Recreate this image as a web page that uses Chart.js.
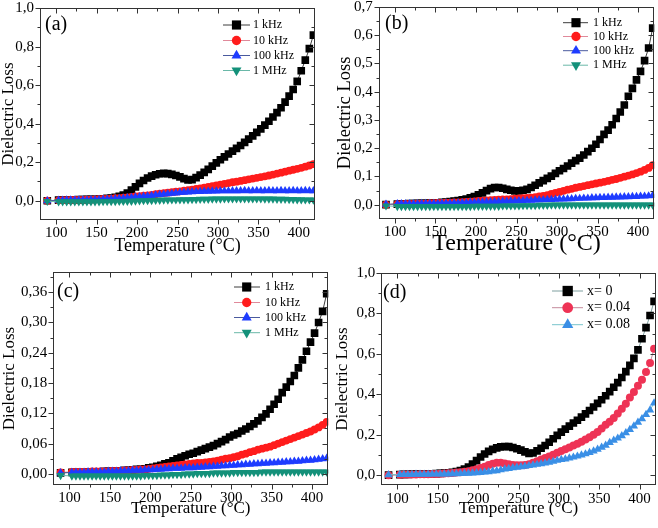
<!DOCTYPE html>
<html><head><meta charset="utf-8">
<script src="https://cdn.jsdelivr.net/npm/chart.js@4.4.1/dist/chart.umd.min.js"></script>
<style>
html,body{margin:0;padding:0;background:#fff;width:658px;height:528px;overflow:hidden}
canvas{position:absolute;left:0;top:0}
</style></head><body>
<canvas id="ca" width="658" height="528"></canvas>
<canvas id="cb" width="658" height="528"></canvas>
<canvas id="cc" width="658" height="528"></canvas>
<canvas id="cd" width="658" height="528"></canvas>
<script>
// ---- data (temperature in °C, dielectric loss) ----
const temps = [89,103,108,113,118,123,128,133,138,143,148,153,158,163,168,173,178,183,188,193,198,203,208,213,218,223,228,233,238,243,248,253,258,263,268,273,278,283,288,293,298,303,308,313,318,323,328,333,338,343,348,353,358,363,368,373,378,383,388,393,398,403,408,413,418];

// panel (a)  x = 0
const lossA_1kHz = [0.000,
 0.003,0.004,0.004,0.005,0.005,0.006,0.006,0.007,0.007,0.008,
 0.009,0.010,0.012,0.014,0.018,0.023,0.030,0.040,0.055,0.072,
 0.090,0.105,0.118,0.128,0.135,0.140,0.142,0.141,0.137,0.131,
 0.124,0.115,0.108,0.110,0.120,0.133,0.147,0.163,0.180,0.197,
 0.213,0.228,0.243,0.258,0.272,0.287,0.303,0.320,0.337,0.355,
 0.373,0.393,0.413,0.435,0.458,0.483,0.512,0.543,0.578,0.620,
 0.675,0.730,0.790,0.860];
const lossA_10kHz = [0.000,
 0.002,0.003,0.003,0.004,0.004,0.005,0.005,0.006,0.006,0.007,
 0.008,0.009,0.010,0.011,0.013,0.014,0.016,0.018,0.020,0.022,
 0.024,0.026,0.028,0.031,0.034,0.037,0.040,0.042,0.045,0.047,
 0.049,0.052,0.055,0.058,0.061,0.064,0.068,0.072,0.076,0.080,
 0.084,0.088,0.092,0.096,0.099,0.103,0.107,0.111,0.115,0.119,
 0.123,0.127,0.131,0.136,0.141,0.146,0.151,0.156,0.161,0.166,
 0.171,0.177,0.183,0.190];
const lossA_100kHz = [0.000,
 0.002,0.002,0.003,0.003,0.003,0.004,0.004,0.004,0.005,0.005,
 0.006,0.007,0.008,0.009,0.010,0.012,0.013,0.015,0.017,0.019,
 0.021,0.023,0.025,0.027,0.030,0.032,0.034,0.036,0.038,0.040,
 0.042,0.044,0.045,0.046,0.047,0.048,0.049,0.049,0.050,0.050,
 0.051,0.051,0.051,0.052,0.052,0.052,0.053,0.052,0.052,0.053,
 0.052,0.052,0.053,0.052,0.052,0.053,0.052,0.052,0.053,0.052,
 0.052,0.053,0.052,0.052];
const lossA_1MHz = [-0.003,
 -0.005,-0.005,-0.005,-0.005,-0.005,-0.005,-0.005,-0.005,-0.005,-0.005,
 -0.005,-0.004,-0.004,-0.004,-0.004,-0.003,-0.003,-0.002,-0.002,-0.001,
 0.000,0.001,0.001,0.002,0.003,0.003,0.004,0.004,0.005,0.005,
 0.006,0.006,0.006,0.007,0.007,0.008,0.008,0.008,0.009,0.009,
 0.009,0.010,0.010,0.010,0.010,0.010,0.010,0.010,0.010,0.010,
 0.010,0.009,0.009,0.009,0.008,0.008,0.008,0.007,0.007,0.006,
 0.006,0.005,0.005,0.004];

// panel (b)  x = 0.04
const lossB_1kHz = [0.000,
 0.002,0.003,0.003,0.004,0.004,0.005,0.005,0.005,0.006,0.006,
 0.007,0.008,0.009,0.011,0.013,0.015,0.017,0.020,0.024,0.029,
 0.035,0.042,0.050,0.057,0.061,0.061,0.058,0.054,0.051,0.049,
 0.049,0.051,0.054,0.061,0.069,0.077,0.085,0.093,0.101,0.111,
 0.120,0.128,0.137,0.147,0.156,0.165,0.176,0.188,0.200,0.214,
 0.231,0.249,0.264,0.283,0.305,0.328,0.353,0.384,0.412,0.442,
 0.472,0.510,0.555,0.625];
const lossB_10kHz = [0.000,
 0.002,0.002,0.003,0.003,0.003,0.004,0.004,0.004,0.005,0.005,
 0.006,0.006,0.007,0.007,0.008,0.008,0.009,0.010,0.011,0.012,
 0.013,0.014,0.015,0.016,0.017,0.018,0.019,0.019,0.020,0.021,
 0.022,0.023,0.024,0.025,0.027,0.029,0.031,0.034,0.038,0.042,
 0.045,0.049,0.053,0.056,0.060,0.063,0.066,0.069,0.072,0.075,
 0.078,0.081,0.084,0.088,0.091,0.095,0.099,0.103,0.107,0.112,
 0.117,0.123,0.130,0.140];
const lossB_100kHz = [0.001,
 0.003,0.003,0.003,0.003,0.003,0.003,0.004,0.004,0.004,0.004,
 0.004,0.005,0.005,0.005,0.006,0.006,0.007,0.007,0.008,0.008,
 0.009,0.009,0.010,0.010,0.011,0.011,0.012,0.012,0.013,0.013,
 0.014,0.014,0.015,0.015,0.016,0.017,0.017,0.018,0.018,0.019,
 0.020,0.020,0.021,0.021,0.022,0.022,0.023,0.023,0.024,0.024,
 0.025,0.025,0.026,0.026,0.027,0.027,0.028,0.028,0.029,0.029,
 0.030,0.030,0.031,0.032];
const lossB_1MHz = [-0.004,
 -0.006,-0.006,-0.006,-0.006,-0.006,-0.006,-0.006,-0.006,-0.006,-0.006,
 -0.006,-0.006,-0.006,-0.006,-0.006,-0.006,-0.006,-0.006,-0.006,-0.005,
 -0.005,-0.005,-0.005,-0.005,-0.005,-0.005,-0.004,-0.004,-0.004,-0.004,
 -0.004,-0.003,-0.003,-0.003,-0.003,-0.002,-0.002,-0.002,-0.001,-0.001,
 -0.001,-0.001,-0.001,-0.001,-0.001,-0.001,-0.001,-0.001,-0.001,-0.001,
 -0.001,-0.001,-0.001,-0.001,-0.001,-0.001,-0.001,-0.001,-0.001,-0.001,
 -0.001,-0.001,-0.001,-0.001];

// panel (c)  x = 0.08
const lossC_1kHz = [0.002,
 0.003,0.003,0.003,0.003,0.004,0.004,0.004,0.004,0.005,0.005,
 0.005,0.006,0.006,0.007,0.007,0.008,0.009,0.009,0.010,0.012,
 0.013,0.015,0.017,0.020,0.022,0.026,0.030,0.033,0.036,0.039,
 0.041,0.044,0.047,0.050,0.053,0.056,0.060,0.064,0.068,0.073,
 0.077,0.080,0.085,0.089,0.094,0.099,0.105,0.112,0.119,0.128,
 0.138,0.148,0.161,0.172,0.183,0.195,0.210,0.226,0.243,0.261,
 0.279,0.300,0.322,0.357];
const lossC_10kHz = [0.003,
 0.004,0.004,0.004,0.004,0.004,0.005,0.005,0.005,0.005,0.005,
 0.006,0.006,0.006,0.007,0.007,0.008,0.008,0.009,0.009,0.010,
 0.011,0.012,0.013,0.014,0.015,0.016,0.017,0.018,0.019,0.020,
 0.021,0.022,0.022,0.023,0.024,0.025,0.026,0.028,0.030,0.031,
 0.033,0.035,0.038,0.040,0.043,0.045,0.048,0.050,0.052,0.054,
 0.057,0.060,0.063,0.066,0.069,0.072,0.075,0.078,0.081,0.084,
 0.088,0.092,0.097,0.103];
const lossC_100kHz = [0.002,
 0.003,0.003,0.003,0.003,0.004,0.004,0.004,0.004,0.004,0.005,
 0.005,0.005,0.006,0.006,0.006,0.007,0.007,0.007,0.008,0.008,
 0.008,0.009,0.009,0.010,0.010,0.011,0.011,0.011,0.012,0.012,
 0.012,0.013,0.013,0.014,0.014,0.015,0.015,0.016,0.016,0.017,
 0.017,0.018,0.018,0.019,0.019,0.020,0.020,0.021,0.021,0.022,
 0.022,0.023,0.023,0.024,0.024,0.025,0.025,0.026,0.027,0.027,
 0.028,0.029,0.030,0.031];
const lossC_1MHz = [-0.003,
 -0.004,-0.004,-0.004,-0.004,-0.004,-0.004,-0.004,-0.004,-0.004,-0.004,
 -0.004,-0.004,-0.004,-0.004,-0.004,-0.004,-0.004,-0.004,-0.003,-0.003,
 -0.003,-0.003,-0.002,-0.002,-0.002,-0.001,-0.001,-0.001,0.000,0.000,
 0.000,0.001,0.001,0.001,0.001,0.002,0.002,0.002,0.002,0.002,
 0.003,0.003,0.003,0.003,0.003,0.003,0.003,0.004,0.004,0.004,
 0.004,0.004,0.004,0.004,0.004,0.004,0.004,0.004,0.004,0.004,
 0.004,0.004,0.004,0.004];

const freqLabels = ['1 kHz', '10 kHz', '100 kHz', '1 MHz'];
const compLabels = ['x= 0', 'x= 0.04', 'x= 0.08'];
const xTitle = 'Temperature (°C)';
const yTitle = 'Dielectric Loss';

// ---- styles ----
const SERIF = "'Liberation Serif', 'Times New Roman', serif";
const freqStyles = [
  {pointStyle:'rect', pointRadius:5.4, pointBackgroundColor:'#000000', borderColor:'#3c3c3c', pointRotation:0},
  {pointStyle:'circle', pointRadius:3.9, pointBackgroundColor:'#ff1c1c', borderColor:'#e0899a', pointRotation:0},
  {pointStyle:'triangle', pointRadius:4.8, pointBackgroundColor:'#1e3cff', borderColor:'#4a5a9e', pointRotation:0},
  {pointStyle:'triangle', pointRadius:4.8, pointBackgroundColor:'#14917a', borderColor:'#6ab8a8', pointRotation:180}
];
const compStyles = [
  {pointStyle:'rect', pointRadius:5.4, pointBackgroundColor:'#000000', borderColor:'#7f9f9f', pointRotation:0},
  {pointStyle:'circle', pointRadius:4, pointBackgroundColor:'#ee3355', borderColor:'#c48a9c', pointRotation:0},
  {pointStyle:'triangle', pointRadius:4.8, pointBackgroundColor:'#3a8fe6', borderColor:'#78c4cc', pointRotation:0}
];

const panels = [
  {id:'ca', plot:[40,8.2,315,220], y:[-0.1,1.0,0.2], dec:1, yTitleX:9, xTitleY:246, xTitleSize:18, yTitleSize:17, tick:15,
   letter:'(a)', letterPos:[45,25], labels:freqLabels, styles:freqStyles,
   series:[lossA_1kHz, lossA_10kHz, lossA_100kHz, lossA_1MHz],
   legend:{x0:223, x1:250, mx:236.5, tx:253, rows:[25,40.5,55.5,70.5], size:12, scale:1.2}},
  {id:'cb', plot:[378.7,7,654.3,218.8], y:[-0.05,0.7,0.1], dec:1, yTitleX:345, xTitleY:244, xTitleSize:24, yTitleSize:18.5, tick:15,
   letter:'(b)', letterPos:[385,24], labels:freqLabels, styles:freqStyles,
   series:[lossB_1kHz, lossB_10kHz, lossB_100kHz, lossB_1MHz],
   legend:{x0:563, x1:588, mx:576, tx:593, rows:[22.7,36.5,50.7,65.2], size:12, scale:1.2}},
  {id:'cc', plot:[53.3,272,328.3,485], y:[-0.022,0.40,0.06], dec:2, yTitleX:10, xTitleY:509, xTitleSize:17, yTitleSize:17, tick:15,
   letter:'(c)', letterPos:[57,292], labels:freqLabels, styles:freqStyles,
   series:[lossC_1kHz, lossC_10kHz, lossC_100kHz, lossC_1MHz],
   legend:{x0:234, x1:260, mx:246.7, tx:265, rows:[287,302.5,317.5,332.7], size:12, scale:1.2}},
  {id:'cd', plot:[381.3,273,655.7,485.3], y:[-0.05,1.0,0.2], dec:1, yTitleX:343, xTitleY:508.7, xTitleSize:17, yTitleSize:17, tick:15,
   letter:'(d)', letterPos:[383,293], labels:compLabels, styles:compStyles,
   series:[lossA_1kHz, lossB_1kHz, lossC_1kHz],
   legend:{x0:552, x1:583, mx:567.7, tx:587, rows:[291,307.7,324.7], size:14, scale:1.35}}
];

// ---- frame, mirrored ticks, panel letter and legend ----
const decor = {
  id: 'decor',
  afterDraw(chart, args, opts) {
    const p = opts.panel;
    const ctx = chart.ctx;
    const {left, top, right, bottom} = chart.chartArea;
    const L = Math.round(left) + 0.5, R = Math.round(right) - 0.5, T = Math.round(top) + 0.5, B = Math.round(bottom) - 0.5;
    ctx.save();
    ctx.strokeStyle = '#333';
    ctx.lineWidth = 1;
    ctx.strokeRect(L, T, R - L, B - T);
    const xs = chart.scales.x, ys = chart.scales.y;
    function tickSet(scale) {
      const vals = scale.ticks.map(t => t.value);
      const out = vals.map(v => ({v, major:true}));
      const half = (vals[1] - vals[0]) / 2;
      const cand = [vals[0] - half];
      for (let i = 0; i < vals.length; i++) cand.push(vals[i] + half);
      cand.forEach(v => { if (v > scale.min + 1e-9 && v < scale.max - 1e-9) out.push({v, major:false}); });
      return out;
    }
    ctx.beginPath();
    tickSet(xs).forEach(t => {
      const px = Math.round(xs.getPixelForValue(t.v)) + 0.5;
      const len = t.major ? 5 : 3;
      ctx.moveTo(px, B); ctx.lineTo(px, B + len);
      ctx.moveTo(px, T); ctx.lineTo(px, T + len);
    });
    tickSet(ys).forEach(t => {
      const py = Math.round(ys.getPixelForValue(t.v)) + 0.5;
      const len = t.major ? 5 : 3;
      ctx.moveTo(L, py); ctx.lineTo(L - len, py);
      ctx.moveTo(R, py); ctx.lineTo(R - len, py);
    });
    ctx.stroke();
    // panel letter
    ctx.fillStyle = '#000';
    ctx.font = '20px ' + SERIF;
    ctx.textBaseline = 'middle';
    ctx.textAlign = 'left';
    ctx.fillText(p.letter, p.letterPos[0], p.letterPos[1]);
    // legend
    const lg = p.legend;
    chart.data.datasets.forEach((ds, i) => {
      const y = lg.rows[i];
      ctx.strokeStyle = ds.borderColor;
      ctx.lineWidth = 1;
      ctx.beginPath(); ctx.moveTo(lg.x0, y); ctx.lineTo(lg.x1, y); ctx.stroke();
      ctx.fillStyle = ds.pointBackgroundColor;
      Chart.helpers.drawPoint(ctx, {pointStyle: ds.pointStyle, rotation: ds.pointRotation, radius: ds.pointRadius * lg.scale, borderWidth: 0}, lg.mx, y);
      ctx.fillStyle = '#000';
      ctx.font = lg.size + 'px ' + SERIF;
      ctx.fillText(ds.label, lg.tx, y);
    });
    ctx.restore();
  }
};

function makeChart(p) {
  const yScaleLeft = p.yTitleX - p.yTitleSize / 2;
  const Wy = p.plot[0] - yScaleLeft;
  const xScaleBottom = p.xTitleY + p.xTitleSize / 2;
  const Hx = xScaleBottom - p.plot[3];
  const tickFont = {family: SERIF, size: p.tick, lineHeight: 1};
  const datasets = p.series.map((vals, i) => Object.assign({
    label: p.labels[i],
    data: temps.map((t, k) => ({x: t, y: vals[k]})),
    borderWidth: 1,
    pointBorderWidth: 0,
    pointHoverRadius: 0,
    tension: 0,
    order: p.series.length - i
  }, p.styles[i]));
  return new Chart(document.getElementById(p.id), {
    type: 'line',
    data: {datasets},
    plugins: [decor],
    options: {
      responsive: false,
      animation: false,
      events: [],
      layout: {autoPadding: false, padding: {left: yScaleLeft, top: p.plot[1], right: 658 - p.plot[2], bottom: 528 - xScaleBottom}},
      plugins: {legend: {display: false}, tooltip: {enabled: false}, decor: {panel: p}},
      scales: {
        x: {
          type: 'linear', min: 80, max: 420,
          afterFit: s => { s.height = Hx; s.paddingLeft = 0; s.paddingRight = 0; },
          grid: {display: false, drawTicks: false}, border: {display: false},
          ticks: {stepSize: 50, includeBounds: false, font: tickFont, color: '#000', padding: 6, maxRotation: 0, autoSkip: false},
          title: {display: true, text: xTitle, color: '#000', padding: 0, font: {family: SERIF, size: p.xTitleSize, lineHeight: 1}}
        },
        y: {
          type: 'linear', min: p.y[0], max: p.y[1],
          afterFit: s => { s.width = Wy; s.paddingTop = 0; s.paddingBottom = 0; },
          grid: {display: false, drawTicks: false}, border: {display: false},
          ticks: {stepSize: p.y[2], includeBounds: false, font: tickFont, color: '#000', padding: 6, autoSkip: false,
                  callback: v => Number(v).toFixed(p.dec).replace('.', ',')},
          title: {display: true, text: yTitle, color: '#000', padding: 0, font: {family: SERIF, size: p.yTitleSize, lineHeight: 1}}
        }
      }
    }
  });
}
panels.forEach(makeChart);
</script>
</body></html>
